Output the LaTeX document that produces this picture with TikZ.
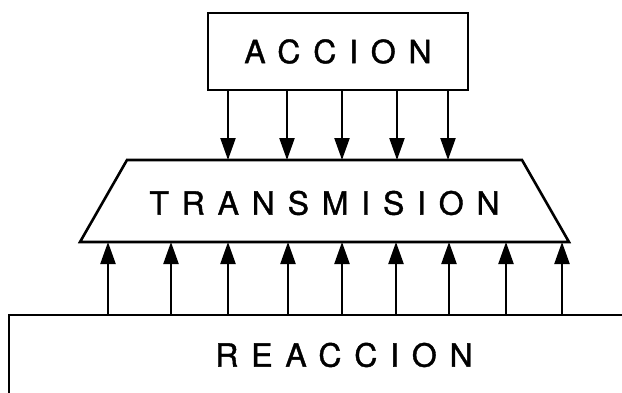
\documentclass[tikz,border=0pt]{standalone}
\usepackage{fontspec}
\setmainfont{TeX Gyre Heros}
\newfontfamily\spacedfont[LetterSpace=40,FakeBold=1.2]{TeX Gyre Heros}
\usetikzlibrary{arrows.meta}
\begin{document}
\begin{tikzpicture}[x=1pt,y=-1pt,
  outline/.style={line width=2.6pt, line join=miter},
  box/.style={outline, draw, inner sep=0pt, outer sep=0pt},
  label/.style={inner sep=0pt, font=\fontsize{32}{32}\spacedfont},
  force/.style={line width=2.3pt, -{Triangle[width=15pt,length=22pt]}}]
\useasboundingbox (0,0) rectangle (622,392);
\clip (0,0) rectangle (622,392);
% upper block
\node[box, minimum width=260, minimum height=77] (acc) at (338,51.5) {};
\node[label] (acctext) at (acc.center) {ACCION};
% middle block (trapezoid)
\coordinate (tbl) at (80,242);
\coordinate (tbr) at (569,242);
\coordinate (ttr) at (522,160);
\coordinate (ttl) at (127,160);
\draw[outline] (tbl) -- (tbr) -- (ttr) -- (ttl) -- cycle;
\node[label] (tra) at (324.5,203) {TRANSMISION};
% lower block, running off the page
\node[box, minimum width=670, minimum height=80] (rea) at (344,355) {};
\node[label] (reatext) at (rea.center) {REACCION};
% action forces, downwards
\foreach \x in {228,287,342,397,448}
  \draw[force] (\x,0 |- acc.south) -- (\x,0 |- ttl);
% reaction forces, upwards
\foreach \x in {108,171,228,288,342,396,449,506,562}
  \draw[force] (\x,0 |- rea.north) -- (\x,0 |- tbl);
\end{tikzpicture}
\end{document}
